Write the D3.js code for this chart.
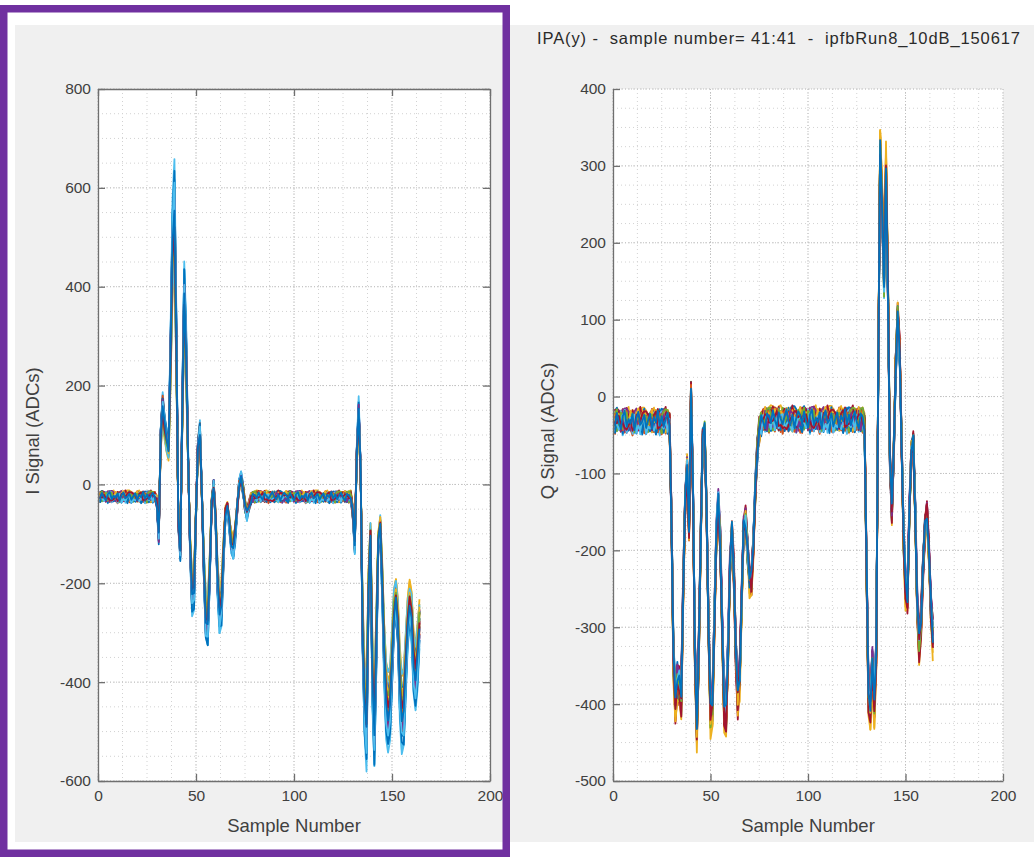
<!DOCTYPE html>
<html>
<head>
<meta charset="utf-8">
<script src="https://cdn.jsdelivr.net/npm/d3@7"></script>
<style>
  html, body { margin: 0; padding: 0; background: #ffffff; }
  svg { display: block; font-family: "Liberation Sans", Arial, Helvetica, sans-serif; }
</style>
</head>
<body>
<svg id="fig" width="1034" height="857"></svg>
<script>
// ---- data ---------------------------------------------------------------
const titleText = "IPA(y) -  sample number= 41:41  -  ipfbRun8_10dB_150617";
const xTicks = [0, 50, 100, 150, 200];
const iTicks = [-600, -400, -200, 0, 200, 400, 600, 800];
const qTicks = [-500, -400, -300, -200, -100, 0, 100, 200, 300, 400];

// sample numbers 1..164
const samples = d3.range(1, 165);

// typical I waveform (ADC counts) per sample
const iBase = [
  -25,-25,-25,-25,-25,-25,-25,-25,-25,-25,-25,-25,-25,-25,-25,-25,-25,-25,-25,-25,
  -25,-25,-25,-25,-25,-25,-25,-25,-25,
  -35,-105,100,165,120,95,75,260,500,570,290,-80,-135,150,390,270,50,-130,-230,-220,
  -60,80,110,-20,-170,-280,-290,-180,-40,0,-70,-200,-265,-250,-150,-60,-45,-80,-120,-135,
  -100,-50,0,12,-10,-45,-62,-45,-30,
  -25,-25,-25,-25,-25,-25,-25,-25,-25,-25,-25,-25,-25,-25,-25,-25,-25,-25,-25,-25,
  -25,-25,-25,-25,-25,-25,-25,-25,-25,-25,-25,-25,-25,-25,-25,-25,-25,-25,-25,-25,
  -25,-25,-25,-25,-25,-25,-25,-25,-25,-25,-25,
  -60,-125,60,150,30,-300,-450,-510,-220,-100,-400,-510,-330,-120,-85,-200,-350,-450,-480,-460,
  -370,-270,-235,-290,-420,-480,-470,-380,-290,-250,-280,-370,-405,-360,-290
];

// typical Q waveform (ADC counts) per sample
const qBase = [
  -32,-32,-32,-32,-32,-32,-32,-32,-32,-32,-32,-32,-32,-32,-32,-32,-32,-32,-32,-32,
  -32,-32,-32,-32,-32,-32,-32,-32,
  -35,-160,-340,-395,-365,-375,-390,-250,-140,-90,-170,5,-120,-330,-425,-330,-180,-55,-45,-150,
  -300,-410,-400,-290,-180,-140,-190,-300,-400,-410,-330,-220,-175,-230,-330,-390,-360,-260,-170,-160,
  -200,-235,-240,-190,-120,-70,-45,-35,-30,
  -30,-30,-30,-30,-30,-30,-30,-30,-30,-30,-30,-30,-30,-30,-30,-30,-30,-30,-30,-30,
  -30,-30,-30,-30,-30,-30,-30,-30,-30,-30,-30,-30,-30,-30,-30,-30,-30,-30,-30,-30,
  -30,-30,-30,-30,-30,-30,-30,-30,-30,-30,-30,
  -40,-220,-385,-400,-350,-395,-330,20,320,250,150,290,140,-80,-150,-70,40,100,60,-60,
  -180,-250,-260,-150,-70,-60,-150,-270,-320,-290,-220,-170,-150,-200,-270,-310
];

// per-shot amplitude and offset of each overlaid trace
const iGain = [1.02,0.90,0.86,0.95,0.88,1.10,0.97, 0.93,1.00,0.82,1.04,0.92,0.85,1.06,
               1.08,0.96,0.90,0.88,1.00,1.14,0.90, 0.86,1.03,0.78,0.98,0.94,0.80,1.00,
               1.10,0.95,0.88,1.02,0.90,1.06,0.93,0.98];
const qGain = [1.00,0.97,1.06,0.99,1.02,0.95,1.04, 0.98,1.01,1.08,0.96,1.03,0.97,1.05,
               1.00,0.99,1.04,1.02,0.96,1.01,0.98, 1.03,1.00,1.07,0.97,1.02,0.99,1.05,
               0.98,1.00,1.03,0.96,1.01,0.97,1.02,1.00];
const iOffset = [2,-3,4,-1,0,-4,3, 1,-2,4,-3,2,0,-1, 3,-4,1,2,-2,0,4, -3,1,-1,3,-2,2,0, -4,1,3,-1,2,-3,0,1];
const qOffset = [3,-5,6,-2,1,-6,4, 2,-3,5,-4,3,0,-1, 5,-6,2,3,-3,0,6, -4,1,-2,4,-3,2,0, -5,2,4,-1,3,-4,0,1];
// ADC noise pattern (counts)
const noiseTable = [3,-5,7,-2,-8,4,9,-6,1,-3,6,-9,2,8,-4,-1,5,-7,0,6,-8,3,-2,9,
                    -5,4,-6,1,7,-3,-9,5,2,-4,8,-1,-7,6,0,-5,3,9,-2,-6,4,-8,1,7];
const noiseStride = [1, 5, 7, 11, 13];

// MATLAB default line colour order
const palette = ["#0072BD", "#D95319", "#EDB120", "#7E2F8E", "#77AC30", "#4DBEEE", "#A2142F"];

// ---- build traces --------------------------------------------------------
function buildTraces(base, baseline, gains, offsets, noiseScale) {
  return gains.map((g, t) => samples.map((s, i) => {
    const n = noiseTable[(i * noiseStride[t % 5] + 11 * t) % noiseTable.length];
    return [s, baseline + g * (base[i] - baseline) + offsets[t] + noiseScale * n];
  }));
}
const iTraces = buildTraces(iBase, -25, iGain, iOffset, 1.0);
const qTraces = buildTraces(qBase, -32, qGain, qOffset, 1.4);

// ---- figure --------------------------------------------------------------
const svg = d3.select("#fig");
svg.append("rect").attr("x", 15).attr("y", 25).attr("width", 1019).attr("height", 817)
  .attr("fill", "#f0f0f0");

const textColor = "#404040";
const axisColor = "#6f6f6f";
const plainNumber = d => String(d);

function drawPanel(cfg) {
  const g = svg.append("g");
  const x = d3.scaleLinear().domain([0, 200]).range([cfg.left, cfg.right]);
  const y = d3.scaleLinear().domain(cfg.yDomain).range([cfg.bottom, cfg.top]);

  g.append("rect").attr("x", cfg.left).attr("y", cfg.top)
    .attr("width", cfg.right - cfg.left).attr("height", cfg.bottom - cfg.top)
    .attr("fill", "#ffffff");

  // minor grid
  const xMinor = d3.range(0, 200.01, 12.5);
  const yMinor = d3.range(cfg.yDomain[0], cfg.yDomain[1] + 0.01, cfg.yMinorStep);
  const grid = g.append("g").attr("fill", "none");
  grid.selectAll(".vmin").data(xMinor).join("line")
    .attr("x1", d => x(d)).attr("x2", d => x(d))
    .attr("y1", cfg.top).attr("y2", cfg.bottom)
    .attr("stroke", "#d2d2d2").attr("stroke-width", 1).attr("stroke-dasharray", "1,3");
  grid.selectAll(".hmin").data(yMinor).join("line")
    .attr("y1", d => y(d)).attr("y2", d => y(d))
    .attr("x1", cfg.left).attr("x2", cfg.right)
    .attr("stroke", "#d2d2d2").attr("stroke-width", 1).attr("stroke-dasharray", "1,3");
  // major grid
  grid.selectAll(".vmaj").data(xTicks).join("line")
    .attr("x1", d => x(d)).attr("x2", d => x(d))
    .attr("y1", cfg.top).attr("y2", cfg.bottom)
    .attr("stroke", "#c0c0c0").attr("stroke-width", 1).attr("stroke-dasharray", "1,2");
  grid.selectAll(".hmaj").data(cfg.yTicks).join("line")
    .attr("y1", d => y(d)).attr("y2", d => y(d))
    .attr("x1", cfg.left).attr("x2", cfg.right)
    .attr("stroke", "#c0c0c0").attr("stroke-width", 1).attr("stroke-dasharray", "1,2");

  // traces
  const clipId = "clip-" + cfg.name;
  g.append("clipPath").attr("id", clipId).append("rect")
    .attr("x", cfg.left).attr("y", cfg.top)
    .attr("width", cfg.right - cfg.left).attr("height", cfg.bottom - cfg.top);
  const line = d3.line().x(d => x(d[0])).y(d => y(d[1]));
  g.append("g").attr("clip-path", `url(#${clipId})`)
    .selectAll("path").data(cfg.traces).join("path")
    .attr("d", line)
    .attr("fill", "none")
    .attr("stroke", (d, i) => palette[i % palette.length])
    .attr("stroke-width", 1.8)
    .attr("stroke-linejoin", "round");

  // axes
  const styleAxis = sel => {
    sel.select(".domain").attr("stroke", axisColor).attr("stroke-width", 1.3);
    sel.selectAll(".tick line").attr("stroke", axisColor).attr("stroke-width", 1.3);
    sel.selectAll(".tick text").attr("fill", textColor).style("font-size", "15.5px")
      .style("font-family", "'Liberation Sans', Arial, sans-serif");
  };
  g.append("g").attr("transform", `translate(0,${cfg.bottom})`)
    .call(d3.axisBottom(x).tickValues(xTicks).tickFormat(plainNumber)
      .tickSizeInner(-7).tickSizeOuter(0).tickPadding(9))
    .call(styleAxis);
  g.append("g").attr("transform", `translate(${cfg.left},0)`)
    .call(d3.axisLeft(y).tickValues(cfg.yTicks).tickFormat(plainNumber)
      .tickSizeInner(-7).tickSizeOuter(0).tickPadding(7))
    .call(styleAxis);
  if (cfg.box) {
    g.append("g").attr("transform", `translate(0,${cfg.top})`)
      .call(d3.axisTop(x).tickValues(xTicks).tickSizeInner(-7).tickSizeOuter(0).tickFormat(""))
      .call(styleAxis);
    g.append("g").attr("transform", `translate(${cfg.right},0)`)
      .call(d3.axisRight(y).tickValues(cfg.yTicks).tickSizeInner(-7).tickSizeOuter(0).tickFormat(""))
      .call(styleAxis);
  }

  // axis labels
  g.append("text").attr("x", (cfg.left + cfg.right) / 2).attr("y", 832)
    .attr("text-anchor", "middle").attr("fill", textColor).style("font-size", "18.5px")
    .text("Sample Number");
  g.append("text")
    .attr("transform", `translate(${cfg.yLabelX},${(cfg.top + cfg.bottom) / 2 - 4}) rotate(-90)`)
    .attr("text-anchor", "middle").attr("fill", textColor).style("font-size", "18.5px")
    .text(cfg.yLabel);
}

drawPanel({
  name: "i", left: 98, right: 490, top: 89, bottom: 781,
  yDomain: [-600, 800], yTicks: iTicks, yMinorStep: 50, box: true,
  yLabel: "I Signal (ADCs)", yLabelX: 39, traces: iTraces
});
drawPanel({
  name: "q", left: 613, right: 1003, top: 89, bottom: 781,
  yDomain: [-500, 400], yTicks: qTicks, yMinorStep: 25, box: false,
  yLabel: "Q Signal (ADCs)", yLabelX: 554, traces: qTraces
});

// title
svg.append("text").attr("x", 537).attr("y", 44)
  .attr("fill", "#2a2a2a").style("font-size", "16.5px").style("white-space", "pre")
  .attr("textLength", 483).attr("lengthAdjust", "spacing")
  .text(titleText);

// highlight frame round the I panel
svg.append("rect").attr("x", 3.75).attr("y", 8.75).attr("width", 502.5).attr("height", 844.5)
  .attr("fill", "none").attr("stroke", "#7030a0").attr("stroke-width", 7.5);
</script>
</body>
</html>
